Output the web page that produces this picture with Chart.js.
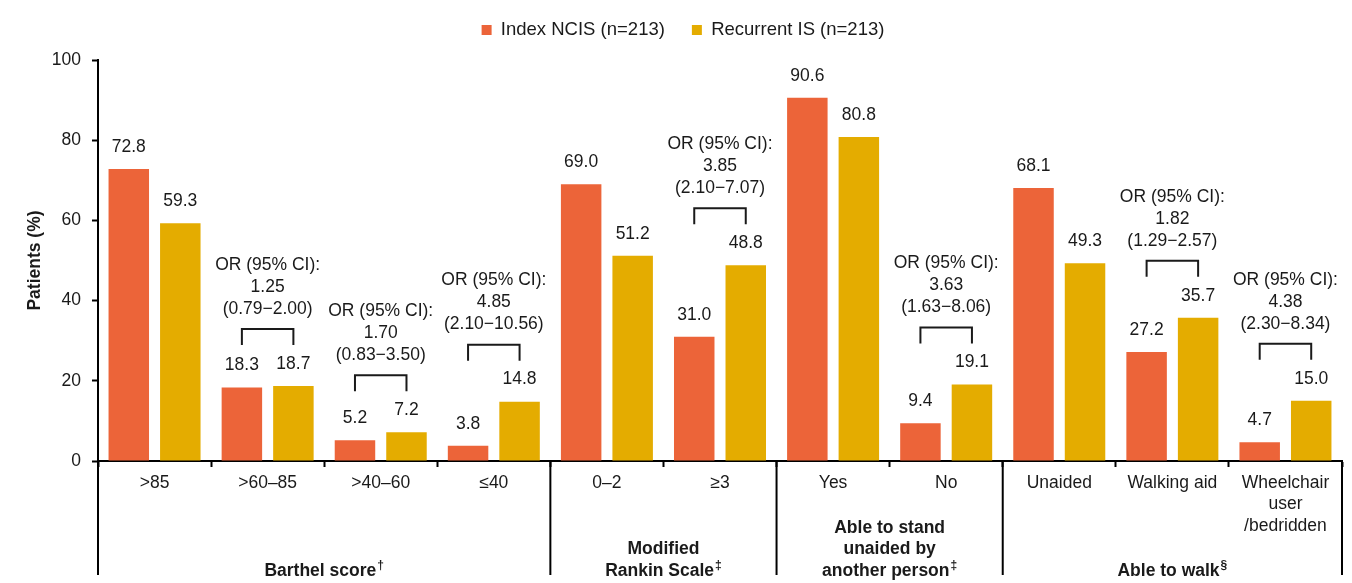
<!DOCTYPE html>
<html><head><meta charset="utf-8">
<script src="https://cdn.jsdelivr.net/npm/chart.js@4.4.1/dist/chart.umd.min.js"></script>
<style>html,body{margin:0;padding:0;background:#fff;}#wrap{width:1352px;height:583px;}</style>
</head><body><div id="wrap"><canvas id="c" width="1352" height="583"></canvas></div>
<script>
// ---- data ----
const categories = ['>85', '>60–85', '>40–60', '≤40', '0–2', '≥3', 'Yes', 'No', 'Unaided', 'Walking aid', ['Wheelchair', 'user', '/bedridden']];
const indexNCIS = [72.8, 18.3, 5.2, 3.8, 69.0, 31.0, 90.6, 9.4, 68.1, 27.2, 4.7];
const recurrentIS = [59.3, 18.7, 7.2, 14.8, 51.2, 48.8, 80.8, 19.1, 49.3, 35.7, 15.0];
const seriesNames = ['Index NCIS (n=213)', 'Recurrent IS (n=213)'];
const yTicks = [0, 20, 40, 60, 80, 100];
const orCategories = [1, 2, 3, 5, 7, 9, 10];
const orValues = ['1.25', '1.70', '4.85', '3.85', '3.63', '1.82', '4.38'];
const orIntervals = ['(0.79−2.00)', '(0.83−3.50)', '(2.10−10.56)', '(2.10−7.07)', '(1.63−8.06)', '(1.29−2.57)', '(2.30−8.34)'];
const groupNames = [['Barthel score'], ['Modified', 'Rankin Scale'], ['Able to stand', 'unaided by', 'another person'], ['Able to walk']];
const groupMarks = ['†', '‡', '‡', '§'];
const groupStarts = [0, 4, 6, 8];
const groupEnds = [4, 6, 8, 11];

// ---- style ----
const FAM = "'Liberation Sans', Arial, sans-serif";
const TEXT = '#1a1a1a';
const ORANGE = '#EC6439';
const GOLD = '#E4AC00';
const FS = 17.5;
const LFS = 18.5;

const overlay = {
  id: 'overlay',
  afterLayout(chart) {
    const lg = chart.legend;
    if (lg) { lg.top -= 10.75; lg.bottom -= 10.75; lg.left += 12; lg.right += 12; }
  },
  afterDatasetsDraw(chart) {
    const ctx = chart.ctx;
    const m0 = chart.getDatasetMeta(0), m1 = chart.getDatasetMeta(1);
    const xs = chart.scales.x, area = chart.chartArea;
    ctx.save();
    ctx.fillStyle = TEXT;
    ctx.strokeStyle = TEXT;
    ctx.textBaseline = 'middle';
    ctx.textAlign = 'center';
    ctx.font = FS + 'px ' + FAM;
    // value labels
    [m0, m1].forEach((m, d) => {
      const vals = chart.data.datasets[d].data;
      m.data.forEach((el, i) => { ctx.fillText(vals[i].toFixed(1), el.x, el.y - 22); });
    });
    // OR brackets
    ctx.lineWidth = 2;
    orCategories.forEach((ci, k) => {
      const a = m0.data[ci], b = m1.data[ci];
      const legBottom = Math.min(a.y, b.y) - 41;
      const top = legBottom - 16;
      ctx.beginPath();
      ctx.moveTo(a.x, legBottom); ctx.lineTo(a.x, top); ctx.lineTo(b.x, top); ctx.lineTo(b.x, legBottom);
      ctx.stroke();
      const cx = (a.x + b.x) / 2;
      ctx.fillText('OR (95% CI):', cx, top - 64);
      ctx.fillText(orValues[k], cx, top - 42);
      ctx.fillText(orIntervals[k], cx, top - 20);
    });
    // group separators
    const n = categories.length;
    const bx = i => i === 0 ? area.left : i === n ? area.right : (xs.getPixelForValue(i - 1) + xs.getPixelForValue(i)) / 2;
    ctx.strokeStyle = '#000';
    const sepIdx = [0, ...groupEnds];
    sepIdx.forEach(i => {
      const x = bx(i);
      ctx.beginPath(); ctx.moveTo(x, area.bottom); ctx.lineTo(x, 575); ctx.stroke();
    });
    // group labels
    const bold = 'bold ' + FS + 'px ' + FAM;
    const supF = 'bold 12px ' + FAM;
    ctx.textAlign = 'left';
    groupNames.forEach((lines, g) => {
      const cx = (bx(groupStarts[g]) + bx(groupEnds[g])) / 2;
      lines.forEach((ln, j) => {
        const y = 571 - (lines.length - 1 - j) * 21.5;
        const last = j === lines.length - 1;
        ctx.font = bold;
        const w = ctx.measureText(ln).width;
        let sw = 0;
        if (last) { ctx.font = supF; sw = ctx.measureText(groupMarks[g]).width + 1; }
        const sx = cx - (w + sw) / 2;
        ctx.font = bold; ctx.fillText(ln, sx, y);
        if (last) { ctx.font = supF; ctx.fillText(groupMarks[g], sx + w + 1, y - 5); }
      });
    });
    ctx.restore();
  }
};

new Chart(document.getElementById('c'), {
  type: 'bar',
  data: {
    labels: categories,
    datasets: [
      { label: seriesNames[0], data: indexNCIS, backgroundColor: ORANGE, borderWidth: 0 },
      { label: seriesNames[1], data: recurrentIS, backgroundColor: GOLD, borderWidth: 0 }
    ]
  },
  options: {
    responsive: false,
    animation: false,
    devicePixelRatio: 1,
    categoryPercentage: 0.911,
    barPercentage: 0.786,
    layout: { padding: { top: 4.5, left: 0, right: 10, bottom: 0 } },
    plugins: {
      tooltip: { enabled: false },
      legend: {
        position: 'top',
        labels: { font: { size: LFS, family: FAM }, color: TEXT, boxWidth: 10, boxHeight: 10, padding: 27 }
      }
    },
    scales: {
      x: {
        afterFit(s) { s.height = 122; },
        grid: { drawOnChartArea: false, drawTicks: true, tickLength: 6, tickColor: '#000', tickWidth: 2, offset: true },
        border: { display: true, color: '#000', width: 2 },
        ticks: { font: { size: FS, family: FAM, lineHeight: 1.23 }, color: TEXT, padding: 5, maxRotation: 0, autoSkip: false }
      },
      y: {
        min: yTicks[0], max: yTicks[yTicks.length - 1],
        afterFit(s) { s.width = 98; },
        afterBuildTicks(s) { s.ticks = yTicks.map(v => ({ value: v })); },
        grid: { drawOnChartArea: false, drawTicks: true, tickLength: 6, tickColor: '#000', tickWidth: 2 },
        border: { display: true, color: '#000', width: 2 },
        ticks: { font: { size: FS, family: FAM }, color: TEXT, padding: 11 },
        title: { display: true, text: 'Patients (%)', font: { size: FS, weight: 'bold', family: FAM }, color: TEXT, padding: { top: 24.5, bottom: 0 } }
      }
    }
  },
  plugins: [overlay]
});
</script></body></html>
